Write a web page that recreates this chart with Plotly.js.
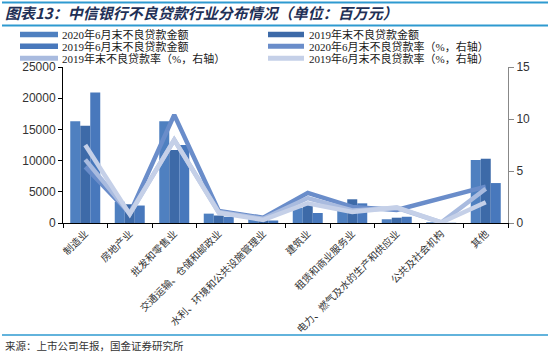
<!DOCTYPE html>
<html><head><meta charset="utf-8">
<script src="https://cdn.plot.ly/plotly-3.0.1.min.js"></script>
<style>html,body{margin:0;padding:0;background:#fff}#chart{width:550px;height:357px}</style>
</head><body><div id="chart"></div>
<script>
const categories = ["制造业","房地产业","批发和零售业","交通运输、仓储和邮政业","水利、环境和公共设施管理业","建筑业","租赁和商业服务业","电力、燃气及水的生产和供应业","公共及社会机构","其他"];

const seriesNames = ["2020年6月末不良贷款金额","2019年末不良贷款金额","2019年6月末不良贷款金额",
  "2020年6月末不良贷款率（%，右轴）","2019年末不良贷款率（%，右轴）","2019年6月末不良贷款率（%，右轴）"];

const amt2020H1 = [16300, 3400, 16300, 1500, 1300, 2400, 3000, 600, 120, 10100];
const amt2019YE = [15600, 3000, 11700, 1200, 1100, 3200, 3800, 850, 60, 10300];
const amt2019H1 = [20900, 2800, 12500, 1000, 400, 1600, 3150, 1000, 40, 6400];

const rate2020H1 = [5.4, 0.9, 10.4, 1.15, 0.5, 2.9, 1.55, 1.25, null, 3.5];
const rate2019YE = [6.1, 0.9, 8.0, 1.05, 0.4, 2.4, 1.2, 1.45, 0.05, 3.3];
const rate2019H1 = [7.5, 0.85, 8.0, 1.0, 0.3, 1.9, 1.05, 1.5, 0.05, 2.0];

const barColors = ['#4F80C0', '#3D6AA8', '#4878BC'];
const lineColors = ['#6A8DCA', '#A9BBDF', '#C5D0E8'];

const W = 550, H = 357, L = 63, R = 42, T = 67, B = 134;
const pw = W - L - R, ph = H - T - B;
function X(px) { return (px - L) / pw; }
function Y(py) { return (H - B - py) / ph; }

const cjk = '"Noto Sans CJK SC", sans-serif';
const serifCjk = '"Liberation Serif", "Noto Sans CJK SC", serif';

const amts = [amt2020H1, amt2019YE, amt2019H1];
const rates = [rate2020H1, rate2019YE, rate2019H1];

const traces = [];
amts.forEach((v, i) => traces.push({
  type: 'bar', x: categories, y: v, name: seriesNames[i],
  marker: {color: barColors[i], line: {width: 0}}, yaxis: 'y'
}));
rates.forEach((v, i) => traces.push({
  type: 'scatter', mode: 'lines', x: categories, y: v, name: seriesNames[3 + i],
  line: {color: lineColors[i], width: 4.5}, connectgaps: true, yaxis: 'y2'
}));

const shapes = [
  {type: 'line', xref: 'paper', yref: 'paper', x0: X(2), x1: X(548), y0: Y(2.5), y1: Y(2.5), line: {color: '#2E9AD0', width: 2}},
  {type: 'line', xref: 'paper', yref: 'paper', x0: X(2), x1: X(548), y0: Y(25.5), y1: Y(25.5), line: {color: '#2E9AD0', width: 2}},
  {type: 'line', xref: 'paper', yref: 'paper', x0: X(2), x1: X(548), y0: Y(335), y1: Y(335), line: {color: '#2E9AD0', width: 1.5}}
];
const annotations = [];

// custom legend: 3 rows x 2 columns
const legendCols = [{sx0: 20, sx1: 58, tx: 60}, {sx0: 268, sx1: 304, tx: 307}];
const legendRows = [34.5, 46.2, 58.3];
seriesNames.forEach((name, i) => {
  const col = legendCols[i % 2], row = legendRows[Math.floor(i / 2)];
  if (i < 3) {
    shapes.push({type: 'rect', xref: 'paper', yref: 'paper', x0: X(col.sx0), x1: X(col.sx1),
      y0: Y(row + 2.8), y1: Y(row - 2.8), fillcolor: barColors[i], line: {width: 0}});
  } else {
    shapes.push({type: 'line', xref: 'paper', yref: 'paper', x0: X(col.sx0), x1: X(col.sx1),
      y0: Y(row), y1: Y(row), line: {color: lineColors[i - 3], width: 5}});
  }
  annotations.push({xref: 'paper', yref: 'paper', x: X(col.tx), y: Y(row), xanchor: 'left', yanchor: 'middle',
    text: name, showarrow: false, font: {family: serifCjk, size: 11, color: '#1a1a1a'}});
});

annotations.push({xref: 'paper', yref: 'paper', x: X(3), y: Y(345), xanchor: 'left', yanchor: 'middle',
  text: '来源：上市公司年报，国金证券研究所', showarrow: false, font: {family: cjk, size: 10.5, color: '#333'}});

const layout = {
  width: W, height: H, autosize: false,
  margin: {l: L, r: R, t: T, b: B, pad: 0},
  paper_bgcolor: '#fff', plot_bgcolor: '#fff',
  showlegend: false, hovermode: false,
  barmode: 'group', bargap: 0.326, bargroupgap: 0,
  title: {text: '<b><i>图表13：中信银行不良贷款行业分布情况（单位：百万元）</i></b>',
    x: 0.009, xanchor: 'left', xref: 'container', y: 1 - 14 / H, yanchor: 'middle', yref: 'container',
    font: {family: cjk, size: 15, color: '#1F3056'}},
  xaxis: {type: 'category', range: [-0.5, 9.5], tickson: 'boundaries', ticks: 'outside', ticklen: 4,
    tickcolor: '#000', showline: true, linecolor: '#000', linewidth: 1, tickangle: -45,
    tickfont: {family: cjk, size: 10, color: '#333'}, showgrid: false, zeroline: false},
  yaxis: {range: [0, 25000], dtick: 5000, tickformat: 'd', ticks: 'outside', ticklen: 4, tickcolor: '#000',
    showline: true, linecolor: '#000', linewidth: 1, showgrid: false, zeroline: false,
    tickfont: {family: '"Liberation Sans", Arial, sans-serif', size: 12, color: '#333'}},
  yaxis2: {overlaying: 'y', side: 'right', range: [0, 15], dtick: 5, ticks: 'outside', ticklen: 5,
    tickcolor: '#888', showline: true, linecolor: '#888', linewidth: 1, showgrid: false, zeroline: false,
    tickfont: {family: '"Liberation Sans", Arial, sans-serif', size: 12, color: '#333'}},
  shapes: shapes, annotations: annotations
};

Plotly.newPlot('chart', traces, layout, {staticPlot: true, displayModeBar: false});
</script></body></html>
